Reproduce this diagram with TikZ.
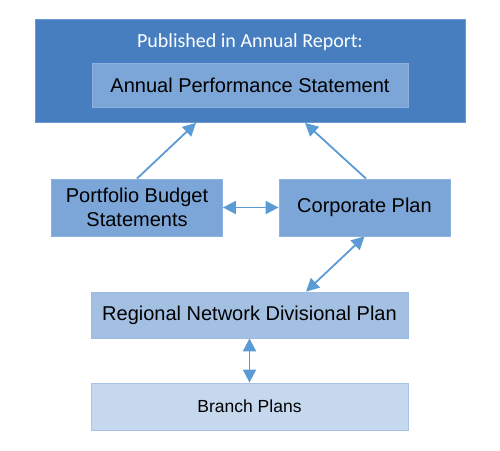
\documentclass[tikz,border=0pt]{standalone}
\usepackage{fontspec}
\setmainfont{Liberation Sans}
\newfontfamily\calibrifont{Carlito}
\usetikzlibrary{arrows.meta}
\definecolor{outerblue}{HTML}{467EC0}
\definecolor{outerline}{HTML}{6A98D0}
\definecolor{midblue}{HTML}{7CA6D8}
\definecolor{midline}{HTML}{8DB2DE}
\definecolor{regblue}{HTML}{A3C0E2}
\definecolor{regline}{HTML}{9CBBE0}
\definecolor{lightblue}{HTML}{C6D8EE}
\definecolor{lightline}{HTML}{A7C3E6}
\definecolor{arrowblue}{HTML}{5B9BD5}
\begin{document}
\begin{tikzpicture}[x=1pt,y=-1pt,
  box/.style={draw=#1, line width=0.8pt, inner sep=0pt, align=center,
    font=\fontsize{20}{24}\selectfont, text=black},
  arr/.style={draw=arrowblue, line width=1.8pt,
    -{Triangle[length=13pt,width=13pt]}},
  darr/.style={draw=arrowblue, line width=1.8pt,
    {Triangle[length=13pt,width=13pt]}-{Triangle[length=13pt,width=13pt]}}]
\useasboundingbox (0,0) rectangle (500,450);
\node[box=outerline, fill=outerblue, minimum width=430pt, minimum height=103pt] (outer) at (250,71) {};
\node[font=\calibrifont\fontsize{20}{24}\selectfont, text=white, inner sep=0pt, anchor=base] (title) at (250,47) {Published in Annual Report:};
\node[box=midline, fill=midblue, minimum width=316pt, minimum height=44pt] (aps) at (250,85) {Annual Performance Statement};
\node[box=midline, fill=midblue, minimum width=171pt, minimum height=57pt] (pbs) at (137,207.5) {Portfolio Budget\\Statements};
\node[box=midline, fill=midblue, minimum width=171pt, minimum height=57pt] (corp) at (364.5,207.5) {Corporate Plan};
\node[box=regline, fill=regblue, minimum width=317pt, minimum height=46pt] (reg) at (249.5,315) {Regional Network Divisional Plan};
\node[box=lightline, fill=lightblue, minimum width=317pt, minimum height=47pt, font=\fontsize{17.5}{21}\selectfont] (branch) at (249.5,406.5) {Branch Plans};
\draw[arr] (pbs.north) -- ([xshift=-54pt]outer.south);
\draw[arr] ([xshift=1.5pt]corp.north) -- ([xshift=55pt]outer.south);
\draw[darr] (pbs.east) -- (corp.west);
\draw[darr] (corp.south) -- ([xshift=56.5pt]reg.north);
\draw[darr] (reg.south) -- (branch.north);
\end{tikzpicture}
\end{document}
